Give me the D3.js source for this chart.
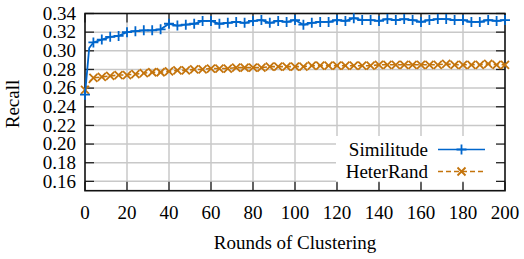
<!DOCTYPE html>
<html><head><meta charset="utf-8">
<script src="https://cdn.jsdelivr.net/npm/d3@7"></script>
</head><body style="margin:0"><svg id="c" width="524" height="259"></svg>
<script>
const rounds = [0,2,4,8,12,16,20,24,28,32,36,40,44,48,52,56,60,64,68,72,76,80,84,88,92,96,100,104,108,112,116,120,124,128,132,136,140,144,148,152,156,160,164,168,172,176,180,184,188,192,196,200];
const similitude = [0.253,0.303,0.309,0.312,0.315,0.316,0.320,0.321,0.322,0.322,0.323,0.329,0.327,0.328,0.329,0.332,0.332,0.329,0.330,0.331,0.330,0.332,0.333,0.330,0.332,0.331,0.333,0.328,0.330,0.331,0.331,0.333,0.332,0.335,0.333,0.333,0.332,0.334,0.333,0.334,0.333,0.331,0.333,0.334,0.334,0.333,0.333,0.331,0.331,0.333,0.332,0.333];
const heterRand = [0.258,0.266,0.271,0.272,0.273,0.274,0.274,0.275,0.276,0.277,0.277,0.278,0.279,0.279,0.280,0.280,0.281,0.281,0.281,0.282,0.282,0.282,0.282,0.283,0.283,0.283,0.283,0.283,0.284,0.284,0.284,0.284,0.284,0.284,0.284,0.284,0.285,0.285,0.285,0.285,0.285,0.285,0.285,0.285,0.286,0.285,0.285,0.285,0.285,0.286,0.285,0.285];
const seriesNames = ["Similitude","HeterRand"];
const xTicks = d3.range(0,201,20);
const yTicks = [0.16,0.18,0.20,0.22,0.24,0.26,0.28,0.30,0.32,0.34];
const xTitle = "Rounds of Clustering", yTitle = "Recall";

const svg = d3.select("#c");
const L=85,R=505,T=13.5,B=190.7;
const x = d3.scaleLinear().domain([0,200]).range([L,R]);
const y = d3.scaleLinear().domain([0.15,0.34]).range([B,T]);
const grid="#c8c8c8", blue="#0066cc", orange="#c4740c";

const g = svg.append("g");
g.selectAll(".vg").data(xTicks.slice(1,-1)).join("line").attr("x1",d=>x(d)).attr("x2",d=>x(d)).attr("y1",T).attr("y2",B).attr("stroke",grid).attr("stroke-width",1.5);
g.selectAll(".hg").data(yTicks.slice(0,-1)).join("line").attr("x1",L).attr("x2",R).attr("y1",d=>y(d)).attr("y2",d=>y(d)).attr("stroke",grid).attr("stroke-width",1.5);

// legend background
svg.append("rect").attr("x",336).attr("y",136).attr("width",R-337).attr("height",47).attr("fill","#fff");

// ticks
const tk = svg.append("g").attr("stroke","#222").attr("stroke-width",1.3);
yTicks.forEach(v=>{
  tk.append("line").attr("x1",L).attr("x2",L+9).attr("y1",y(v)).attr("y2",y(v));
  tk.append("line").attr("x1",R).attr("x2",R-9).attr("y1",y(v)).attr("y2",y(v));
});
xTicks.forEach(v=>{
  tk.append("line").attr("x1",x(v)).attr("x2",x(v)).attr("y1",B).attr("y2",B-9);
  tk.append("line").attr("x1",x(v)).attr("x2",x(v)).attr("y1",T).attr("y2",T+9);
});
svg.append("rect").attr("x",L).attr("y",T).attr("width",R-L).attr("height",B-T).attr("fill","none").attr("stroke","#111").attr("stroke-width",1.6);

// text helper: anchor 0=start, 0.5=middle, 1=end, positioned by measured width
function label(str, px, py, anchor){
  const t = svg.append("text").attr("x",px).attr("y",py).attr("font-size",19).style("font-family",'"Liberation Serif"').text(str);
  const w = t.node().getComputedTextLength();
  t.attr("x", px - anchor*w);
  return t;
}
yTicks.forEach(v=>label(v.toFixed(2), 76, y(v)+6.3, 1));
xTicks.forEach(v=>label(String(v), x(v), 219, 0.5));
label(xTitle, 295, 249, 0.5);
{
  const t = svg.append("text").attr("font-size",19).style("font-family",'"Liberation Serif"').text(yTitle);
  const w = t.node().getComputedTextLength();
  t.attr("transform",`translate(19,${104 + w/2}) rotate(-90)`);
}

// series
const line = d3.line().x((d,i)=>x(rounds[i])).y(d=>y(d));
const plus = (sel,cx,cy,c)=>{ sel.append("path").attr("d",`M${cx-5},${cy}H${cx+5}M${cx},${cy-5}V${cy+5}`).attr("stroke",c).attr("stroke-width",1.8).attr("fill","none"); };
const cross = (sel,cx,cy,c)=>{ sel.append("path").attr("d",`M${cx-4},${cy-4}L${cx+4},${cy+4}M${cx-4},${cy+4}L${cx+4},${cy-4}`).attr("stroke",c).attr("stroke-width",1.8).attr("fill","none"); };

const s2 = svg.append("g");
s2.append("path").attr("d",line(heterRand)).attr("fill","none").attr("stroke",orange).attr("stroke-width",1.6).attr("stroke-dasharray","5,3");
heterRand.forEach((v,i)=>{ if(rounds[i]%4===0) cross(s2,x(rounds[i]),y(v),orange); });
const s1 = svg.append("g");
s1.append("path").attr("d",line(similitude)).attr("fill","none").attr("stroke",blue).attr("stroke-width",1.8);
similitude.forEach((v,i)=>{ if(rounds[i]%4===0) plus(s1,x(rounds[i]),y(v),blue); });

// legend
const leg=[{n:seriesNames[0],c:blue,m:plus,dash:null,yy:149.5},{n:seriesNames[1],c:orange,m:cross,dash:"5,3",yy:171.5}];
leg.forEach(o=>{
  label(o.n, 428, o.yy+6.3, 1);
  svg.append("line").attr("x1",438).attr("x2",485).attr("y1",o.yy).attr("y2",o.yy).attr("stroke",o.c).attr("stroke-width",1.6).attr("stroke-dasharray",o.dash);
  o.m(svg,461.5,o.yy,o.c);
});
</script></body></html>
